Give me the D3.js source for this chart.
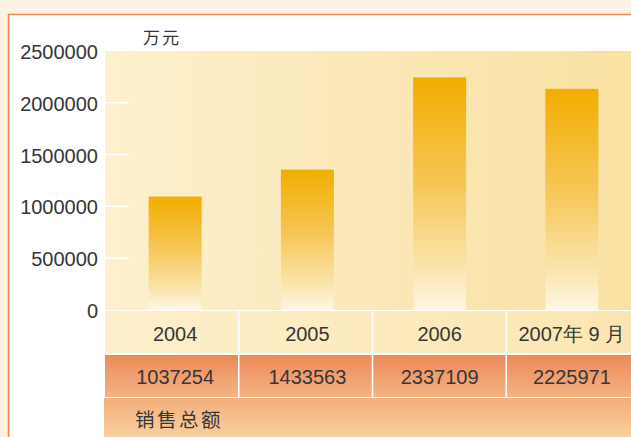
<!DOCTYPE html>
<html>
<head>
<meta charset="utf-8">
<script src="https://cdn.jsdelivr.net/npm/d3@7"></script>
<style>
  body { margin: 0; background: #fdf2e2; }
  svg { display: block; }
  text { font-family: "Liberation Sans", Arial, sans-serif; fill: #363636; }
  .cjk { font-family: "Noto Sans CJK SC", sans-serif; }
</style>
</head>
<body>
<svg id="chart" width="631" height="437"></svg>
<script>
// data
const years = ["2004", "2005", "2006", "2007年 9 月"];
const totals = ["1037254", "1433563", "2337109", "2225971"];
// bar heights as drawn in the picture (万元)
const barValues = [1095000, 1355000, 2245000, 2135000];
const yTicks = [0, 500000, 1000000, 1500000, 2000000, 2500000];
const unitLabel = "万元";
const rowLabel = "销售总额";

const svg = d3.select("#chart");
const W = 631, H = 437;

const plotLeft = 105, plotTop = 51, plotBottom = 310;
const row1 = [311, 353], row2 = [355, 397], row3 = 398;

const defs = svg.append("defs");

function linGrad(id, x2, y2, stops) {
  const g = defs.append("linearGradient").attr("id", id)
    .attr("x1", 0).attr("y1", 0).attr("x2", x2).attr("y2", y2);
  stops.forEach(function (s) {
    g.append("stop").attr("offset", s[0]).attr("stop-color", s[1]);
  });
}
linGrad("plotBg", 1, 0, [[0, "#fdf0ce"], [0.5, "#fbe8b8"], [1, "#f9e1a3"]]);
linGrad("barFill", 0, 1, [[0, "#f2ad00"], [0.45, "#f6c654"], [0.8, "#fae3a8"], [1, "#fef6e4"]]);
linGrad("row1Bg", 1, 0, [[0, "#fdefcb"], [1, "#fbe6b2"]]);
linGrad("row2Bg", 0, 1, [[0, "#ec8a58"], [1, "#f4b383"]]);
linGrad("row3Bg", 0, 1, [[0, "#f3ae7b"], [1, "#f8cf9f"]]);

// white panel with orange frame
svg.append("rect").attr("x", 9).attr("y", 15).attr("width", W).attr("height", H)
  .attr("fill", "#fff");
svg.append("path")
  .attr("d", "M8.5," + H + "V14.5H" + W)
  .attr("fill", "none").attr("stroke", "#ef8a50").attr("stroke-width", 1.6);

// scales
const y = d3.scaleLinear().domain([0, 2500000]).range([plotBottom, plotTop]);
const x = d3.scaleBand().domain(years).range([109, 638]);
const col = d3.scaleBand().domain(years).range([plotLeft, 640]);
const barW = 53;

// plot background
svg.append("rect").attr("x", plotLeft).attr("y", plotTop)
  .attr("width", W - plotLeft).attr("height", plotBottom - plotTop)
  .attr("fill", "url(#plotBg)");

// y axis
const yAxis = svg.append("g")
  .attr("transform", "translate(" + plotLeft + ",1)")
  .call(d3.axisLeft(y).tickValues(yTicks).tickSize(0).tickPadding(7).tickFormat(d3.format("d")));
yAxis.select(".domain").remove();
yAxis.selectAll("text")
  .style("font-family", "Liberation Sans, Arial, sans-serif")
  .style("font-size", "20px").attr("fill", "#363636");

// white tick marks inside plot
svg.append("g").selectAll("line")
  .data(yTicks.filter(function (d) { return d > 0 && d < 2500000; }))
  .enter().append("line")
  .attr("x1", plotLeft).attr("x2", plotLeft + 24)
  .attr("y1", function (d) { return y(d); }).attr("y2", function (d) { return y(d); })
  .attr("stroke", "#fff").attr("stroke-width", 1.5);

// bars
svg.append("g").selectAll("rect")
  .data(barValues)
  .enter().append("rect")
  .attr("x", function (d, i) { return x(years[i]) + x.bandwidth() / 2 - barW / 2; })
  .attr("y", function (d) { return y(d); })
  .attr("width", barW)
  .attr("height", function (d) { return plotBottom - y(d); })
  .attr("fill", "url(#barFill)");

// unit label
svg.append("text").attr("class", "cjk")
  .attr("x", 143).attr("y", 44)
  .attr("letter-spacing", "2px")
  .style("font-size", "17px")
  .text(unitLabel);

// table rows
svg.append("rect").attr("x", plotLeft).attr("y", row1[0])
  .attr("width", W - plotLeft).attr("height", row1[1] - row1[0])
  .attr("fill", "url(#row1Bg)");
svg.append("rect").attr("x", plotLeft).attr("y", row2[0])
  .attr("width", W - plotLeft).attr("height", row2[1] - row2[0])
  .attr("fill", "url(#row2Bg)");
svg.append("rect").attr("x", plotLeft - 1).attr("y", row3)
  .attr("width", W - plotLeft + 1).attr("height", H - row3)
  .attr("fill", "url(#row3Bg)");

// column dividers
svg.append("g").selectAll("line")
  .data(years.slice(1))
  .enter().append("line")
  .attr("x1", function (d) { return col(d); }).attr("x2", function (d) { return col(d); })
  .attr("y1", row1[0]).attr("y2", row2[1])
  .attr("stroke", "#fff").attr("stroke-width", 1.6);

// year labels
svg.append("g").selectAll("text")
  .data(years)
  .enter().append("text")
  .attr("x", function (d) { return x(d) + x.bandwidth() / 2; })
  .attr("y", 341)
  .attr("text-anchor", "middle")
  .style("font-size", "20px")
  .text(function (d) { return d; });

// totals
svg.append("g").selectAll("text")
  .data(totals)
  .enter().append("text")
  .attr("x", function (d, i) { return x(years[i]) + x.bandwidth() / 2; })
  .attr("y", 384)
  .attr("text-anchor", "middle")
  .style("font-size", "20px")
  .text(function (d) { return d; });

// row label
svg.append("text").attr("class", "cjk")
  .attr("x", 135).attr("y", 427)
  .attr("letter-spacing", "2.5px")
  .style("font-size", "19.5px")
  .text(rowLabel);
</script>
</body>
</html>
